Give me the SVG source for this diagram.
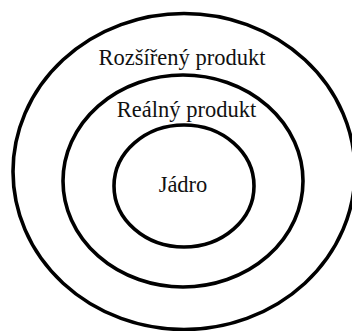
<svg xmlns="http://www.w3.org/2000/svg" width="352" height="331" viewBox="0 0 352 331">
<style>
.ring{fill:none;stroke:#000;stroke-width:3.6}
.lbl{font-family:"Liberation Serif","Times New Roman",serif;font-size:22.5px;fill:#111;text-anchor:middle}
</style>
<rect width="352" height="331" fill="#fff"/>
<g id="outer">
<ellipse class="ring" cx="184" cy="171.5" rx="171" ry="158"/>
<text class="lbl" x="182" y="65">Rozšířený produkt</text>
</g>
<g id="middle">
<ellipse class="ring" cx="183" cy="181" rx="120" ry="106"/>
<text class="lbl" x="186.5" y="116.5">Reálný produkt</text>
</g>
<g id="inner">
<ellipse class="ring" cx="184" cy="186" rx="70" ry="61"/>
<text class="lbl" x="183" y="192">Jádro</text>
</g>
<g id="connectors"/>
</svg>
